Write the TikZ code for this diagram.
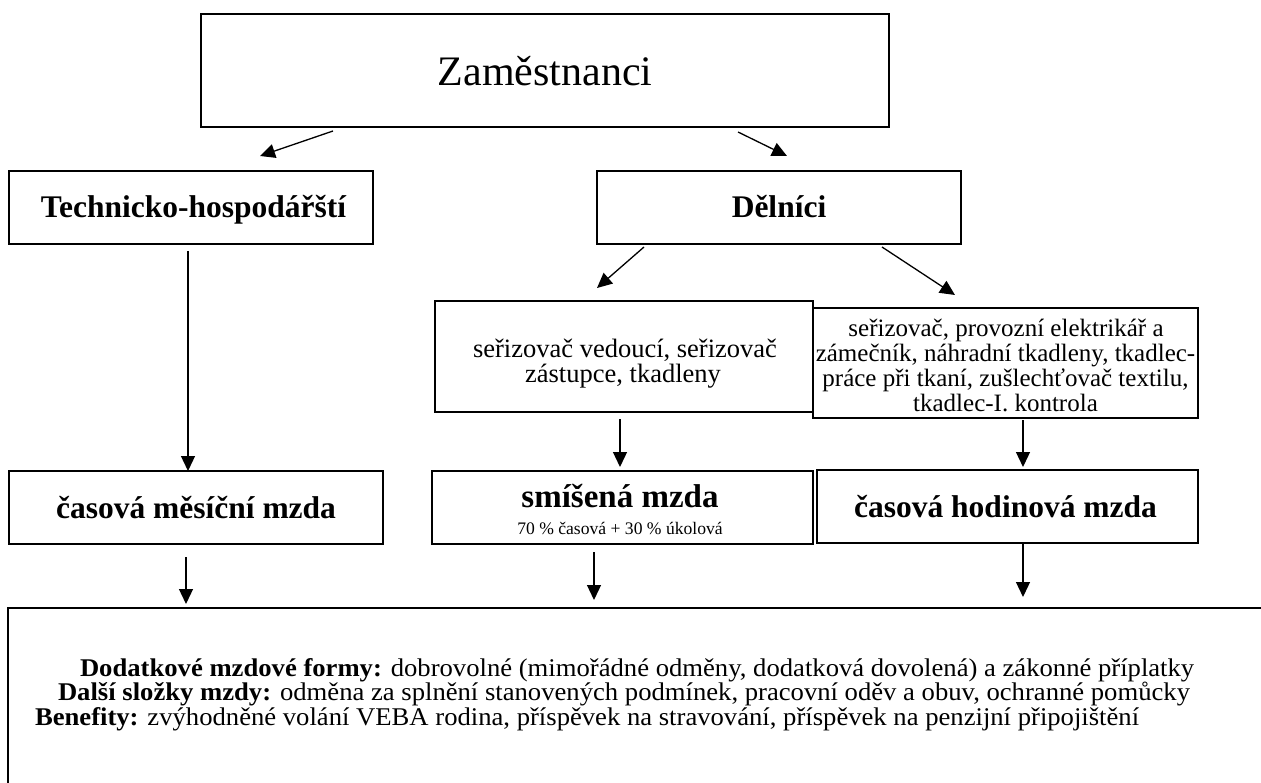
\documentclass[tikz,border=0pt]{standalone}
\usepackage{fontspec}
\setmainfont{Liberation Serif}
\usetikzlibrary{arrows.meta}
\newcommand{\fsz}[1]{\fontsize{#1}{#1}\selectfont}
\newcommand{\wide}[1]{\scalebox{1.045}[1]{#1}}
\begin{document}
\begin{tikzpicture}[x=1pt,y=-1pt,
  box/.style={draw, line width=1.9pt, inner sep=0pt, outer sep=0pt},
  arr/.style={line width=1.3pt, -{Triangle[length=15pt,width=14pt]}},
  txt/.style={anchor=base, inner sep=0pt, outer sep=0pt},
  txtl/.style={anchor=base west, inner sep=0pt, outer sep=0pt},
  bigfont/.style={font=\fsz{42}},
  headfont/.style={font=\bfseries\fsz{31.5}},
  bodyfont/.style={font=\fsz{25}},
  bodyfontb/.style={font=\fsz{26.5}},
  smallfont/.style={font=\fsz{17.6}},
  botfont/.style={font=\fsz{25.5}}]
\useasboundingbox (0,0) rectangle (1261,783);
\clip (0,0) rectangle (1261,783);
\fill[white] (0,0) rectangle (1261,783);

% boxes
\node[box, minimum width=688pt, minimum height=113pt] (zam) at (545,70.5) {};
\node[box, minimum width=364pt, minimum height=73pt] (tech) at (191,207.5) {};
\node[box, minimum width=364pt, minimum height=73pt] (del) at (779,207.5) {};
\node[box, minimum width=378pt, minimum height=111pt] (ser1) at (624,356.5) {};
\node[box, minimum width=385pt, minimum height=110pt] (ser2) at (1005.5,363) {};
\node[box, minimum width=374pt, minimum height=73pt] (cmm) at (196,507.5) {};
\node[box, minimum width=381pt, minimum height=73pt] (smi) at (622.5,507.5) {};
\node[box, minimum width=381pt, minimum height=73pt] (chm) at (1007.5,506.5) {};
\node[box, anchor=north west, minimum width=1400pt, minimum height=300pt] (bot) at (8,608) {};

% texts
\node[txt, bigfont] (tzam) at (545,86) {Zaměstnanci};
\node[txt, headfont] (ttech) at (193.5,218) {Technicko-hospodářští};
\node[txt, headfont] (tdel) at (779,218) {Dělníci};
\node[txt, bodyfontb] (tsa1) at (625,358) {seřizovač vedoucí, seřizovač};
\node[txt, bodyfontb] (tsa2) at (623,383) {zástupce, tkadleny};
\node[txt, bodyfont] (tsb1) at (1006,337) {seřizovač, provozní elektrikář a};
\node[txt, bodyfont] (tsb2) at (1005.5,362) {zámečník, náhradní tkadleny, tkadlec-};
\node[txt, bodyfont] (tsb3) at (1005.5,387) {práce při tkaní, zušlechťovač textilu,};
\node[txt, bodyfont] (tsb4) at (1005.5,412) {tkadlec-I. kontrola};
\node[txt, headfont] (tcmm) at (196,518) {časová měsíční mzda};
\node[txt, font=\bfseries\fsz{33}] (tsmi) at (620,507) {smíšená mzda};
\node[txt, smallfont] (tsmi2) at (620,534) {70 \% časová + 30 \% úkolová};
\node[txt, headfont] (tchm) at (1005.5,517) {časová hodinová mzda};
\node[txtl, botfont] (tb1) at (80,676) {\wide{\textbf{Dodatkové mzdové formy:} dobrovolné (mimořádné odměny, dodatková dovolená) a zákonné příplatky}};
\node[txtl, botfont] (tb2) at (58,700.5) {\wide{\textbf{Další složky mzdy:} odměna za splnění stanovených podmínek, pracovní oděv a obuv, ochranné pomůcky}};
\node[txtl, botfont] (tb3) at (35,725) {\wide{\textbf{Benefity:} zvýhodněné volání VEBA rodina, příspěvek na stravování, příspěvek na penzijní připojištění}};

% arrow end points
\coordinate (a1s) at (333,131); \coordinate (a1e) at (260,156);
\coordinate (a2s) at (738,132); \coordinate (a2e) at (787,156);
\coordinate (a3s) at (188,251); \coordinate (a3e) at (188,471);
\coordinate (a4s) at (644,247); \coordinate (a4e) at (597,288);
\coordinate (a5s) at (882,247); \coordinate (a5e) at (955,295);
\coordinate (a6s) at (620,419); \coordinate (a6e) at (620,467);
\coordinate (a7s) at (1023,420); \coordinate (a7e) at (1023,467);
\coordinate (a8s) at (186,557); \coordinate (a8e) at (186,604);
\coordinate (a9s) at (594,552); \coordinate (a9e) at (594,600);
\coordinate (a10s) at (1023,544); \coordinate (a10e) at (1023,597);

\draw[arr] (a1s) -- (a1e);
\draw[arr] (a2s) -- (a2e);
\draw[arr] (a3s) -- (a3e);
\draw[arr] (a4s) -- (a4e);
\draw[arr] (a5s) -- (a5e);
\draw[arr] (a6s) -- (a6e);
\draw[arr] (a7s) -- (a7e);
\draw[arr] (a8s) -- (a8e);
\draw[arr] (a9s) -- (a9e);
\draw[arr] (a10s) -- (a10e);
\end{tikzpicture}
\end{document}
